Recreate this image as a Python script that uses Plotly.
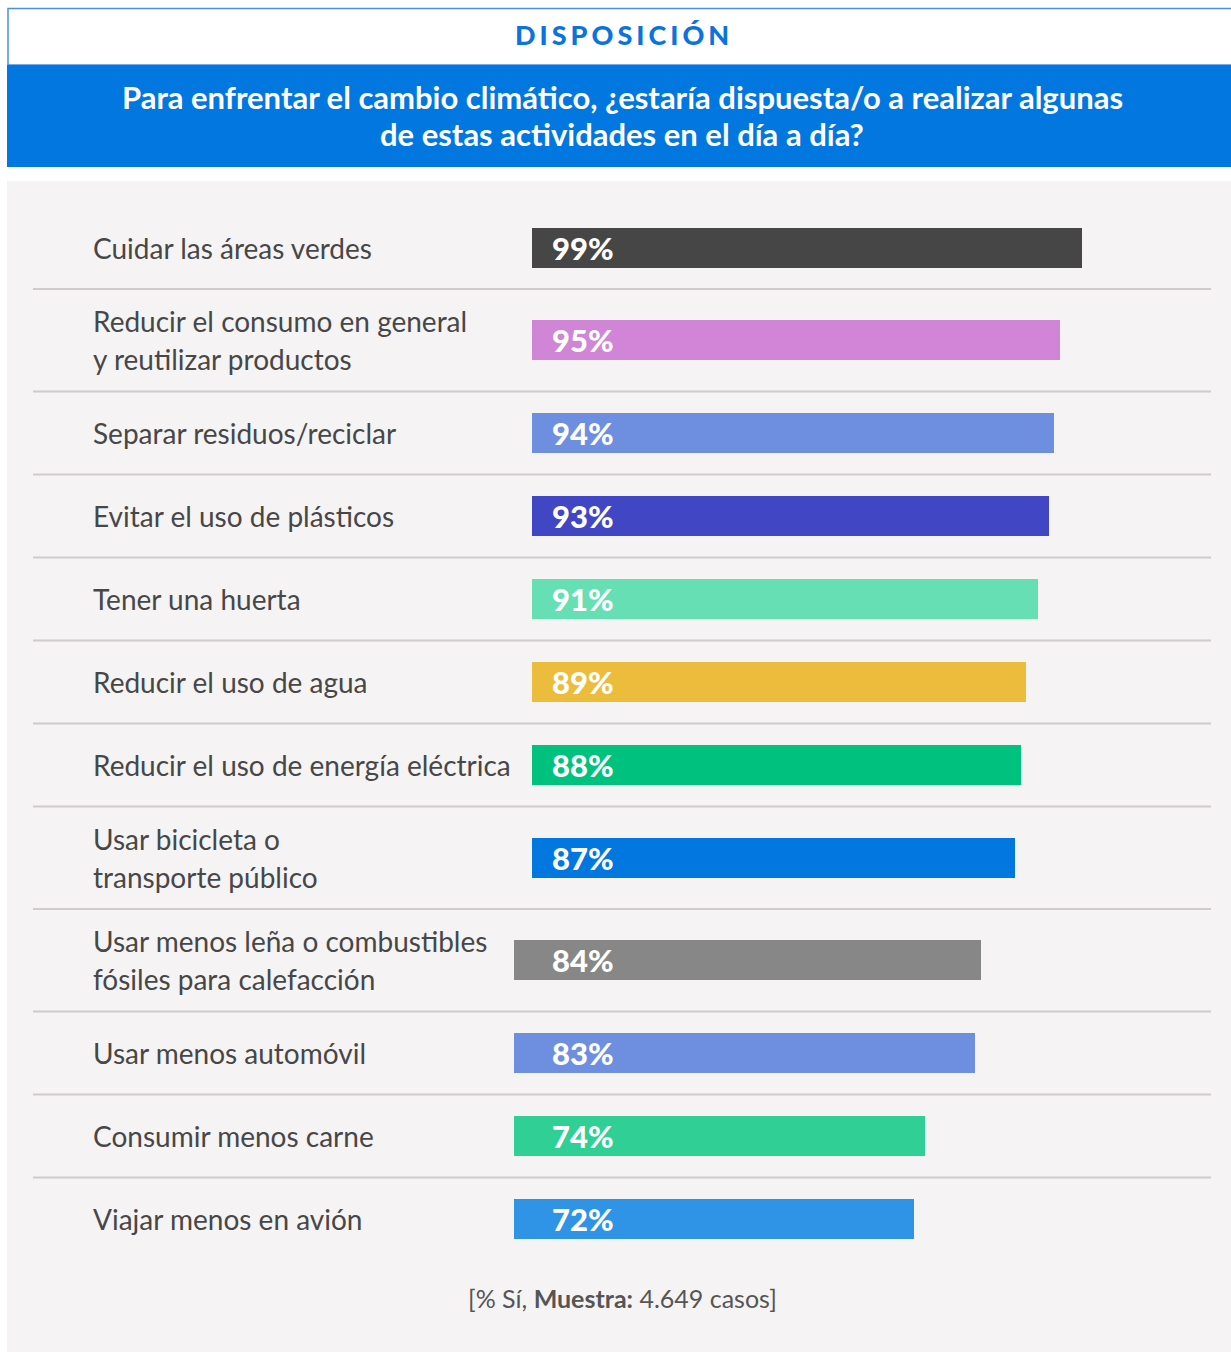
import plotly.graph_objects as go

# ---------------- data ----------------
categories = [
    "Cuidar las áreas verdes",
    "Reducir el consumo en general<br>y reutilizar productos",
    "Separar residuos/reciclar",
    "Evitar el uso de plásticos",
    "Tener una huerta",
    "Reducir el uso de agua",
    "Reducir el uso de energía eléctrica",
    "Usar bicicleta o<br>transporte público",
    "Usar menos leña o combustibles<br>fósiles para calefacción",
    "Usar menos automóvil",
    "Consumir menos carne",
    "Viajar menos en avión",
]
values = [99, 95, 94, 93, 91, 89, 88, 87, 84, 83, 74, 72]
colors = ["#464646", "#d085d6", "#6e8fe0", "#4146c4", "#66dfb4", "#ecbd3c",
          "#00c27f", "#0277e0", "#868786", "#6e8fe0", "#30cf95", "#3094e6"]
bar_axis = ["x"] * 8 + ["x2"] * 4   # the last four bars start a bit further left

section = "DISPOSICIÓN"
title_lines = ["Para enfrentar el cambio climático, ¿estaría dispuesta/o a realizar algunas",
               "de estas actividades en el día a día?"]
footer = "[% Sí, <b>Muestra:</b> 4.649 casos]"

# ---------------- layout constants ----------------
W, H = 1231, 1352
OFF = 0
FONT = "Lato"
TEXT_COL = "#474747"

def px(x):
    return (x - OFF) / W

def py(y):
    return 1 - (y - OFF) / H

# row geometry derived from number of label lines
ROW_1, ROW_2 = 83, 102.5
top = 206.0
centers, seps = [], []
for lab in categories:
    h = ROW_1 if lab.count("<br>") == 0 else ROW_2
    centers.append(top + h / 2)
    top += h
    seps.append(top)
seps = seps[:-1]

PX_PER_UNIT = 5.556
X1_LEFT, X2_LEFT = 532, 513.5

fig = go.Figure()
for ax in ["x", "x2"]:
    idx = [i for i, a in enumerate(bar_axis) if a == ax]
    fig.add_trace(go.Bar(
        orientation="h",
        x=[values[i] for i in idx],
        y=[centers[i] for i in idx],
        width=40,
        marker=dict(color=[colors[i] for i in idx], line=dict(width=0)),
        xaxis=ax, yaxis="y",
        hoverinfo="skip", showlegend=False,
    ))

shapes = []
# header box
shapes.append(dict(type="rect", xref="paper", yref="paper",
                   x0=px(8), x1=px(1245), y0=py(65), y1=py(8.5),
                   line=dict(color="#4a90e2", width=1.5), fillcolor="white", layer="below"))
# blue band
shapes.append(dict(type="rect", xref="paper", yref="paper",
                   x0=px(7), x1=px(1245), y0=py(167), y1=py(65),
                   line=dict(width=0), fillcolor="#0277e0", layer="below"))
# grey panel
shapes.append(dict(type="rect", xref="paper", yref="paper",
                   x0=px(7), x1=px(1245), y0=py(1370), y1=py(181),
                   line=dict(width=0), fillcolor="#f5f3f4", layer="below"))
# separators
for s in seps:
    shapes.append(dict(type="line", xref="paper", yref="y",
                       x0=px(33), x1=px(1211), y0=s, y1=s,
                       line=dict(color="#cfcbcb", width=2), layer="below"))

annotations = []
annotations.append(dict(
    text=f'<span style="letter-spacing:4px">{section}</span>',
    x=px(624), y=py(35), xref="paper", yref="paper", xanchor="center", yanchor="middle",
    showarrow=False, font=dict(family=FONT, size=27, color="#0a74dc", weight=900)))
for k, ln in enumerate(title_lines):
    annotations.append(dict(
        text=ln, x=px(622), y=py(97 + 37 * k), xref="paper", yref="paper",
        xanchor="center", yanchor="middle", showarrow=False,
        font=dict(family=FONT, size=31, color="white", weight=700)))

LINE_GAP = 38
for lab, c, v in zip(categories, centers, values):
    lines = lab.split("<br>")
    n = len(lines)
    for k, ln in enumerate(lines):
        yy = c + (k - (n - 1) / 2) * LINE_GAP
        annotations.append(dict(
            text=ln, x=px(91), y=yy, xref="paper", yref="y",
            xanchor="left", yanchor="middle", showarrow=False,
            font=dict(family=FONT, size=28, color=TEXT_COL)))
    annotations.append(dict(
        text=f"{v}%", x=px(550), y=c, xref="paper", yref="y",
        xanchor="left", yanchor="middle", showarrow=False,
        font=dict(family=FONT, size=31, color="white", weight=900)))

annotations.append(dict(
    text=footer, x=px(622), y=py(1298), xref="paper", yref="paper",
    xanchor="center", yanchor="middle", showarrow=False,
    font=dict(family=FONT, size=25, color="#555555")))

fig.update_layout(
    width=W, height=H,
    margin=dict(l=0, r=0, t=0, b=0),
    paper_bgcolor="white", plot_bgcolor="rgba(0,0,0,0)",
    xaxis=dict(domain=[px(X1_LEFT), px(X1_LEFT + 100 * PX_PER_UNIT)], range=[0, 100],
               visible=False, fixedrange=True),
    xaxis2=dict(domain=[px(X2_LEFT), px(X2_LEFT + 100 * PX_PER_UNIT)], range=[0, 100],
                visible=False, fixedrange=True, anchor="y"),
    yaxis=dict(domain=[0, 1], range=[H + OFF, OFF], visible=False, fixedrange=True),
    shapes=shapes, annotations=annotations,
    bargap=0,
)

fig.write_html("out.html",
               config={"displayModeBar": False},
               post_script="document.body.style.margin='0';document.body.style.overflow='hidden';")
